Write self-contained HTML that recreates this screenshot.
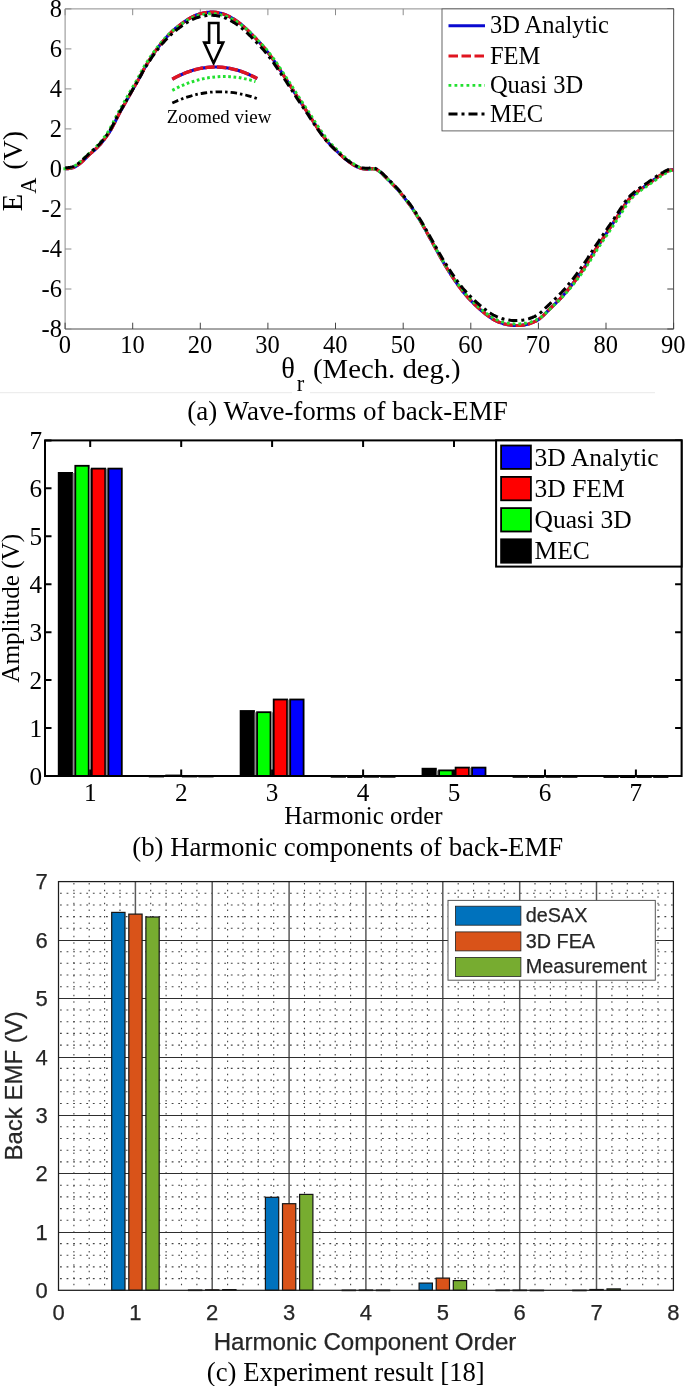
<!DOCTYPE html>
<html><head><meta charset="utf-8"><title>Back-EMF comparison</title>
<style>
html,body{margin:0;padding:0;background:#fff}
svg{display:block}
text{font-family:"Liberation Serif",serif;fill:#000}
.s24{font-size:24.5px}
.s25{font-size:25.2px}
.cap{font-size:27px}
.h,.h21{font-family:"Liberation Sans",sans-serif;fill:#262626;stroke:#262626;stroke-width:0.25px}
.h21{font-size:22px}
</style></head><body>
<svg width="685" height="1386" viewBox="0 0 685 1386">
<rect width="685" height="1386" fill="#fff"/>
<g id="chart-a">
<path d="M65.1,329.0V8.9H673.6" fill="none" stroke="#8c8c8c" stroke-width="1"/>
<path d="M65.1,329.0H673.6V8.9" fill="none" stroke="#4c4c4c" stroke-width="1"/>
<path d="M65.1,8.9v6.3 M132.7,8.9v6.3 M200.3,8.9v6.3 M267.9,8.9v6.3 M335.5,8.9v6.3 M403.2,8.9v6.3 M470.8,8.9v6.3 M538.4,8.9v6.3 M606.0,8.9v6.3 M673.6,8.9v6.3 M65.1,8.9h6.3 M65.1,48.9h6.3 M65.1,88.9h6.3 M65.1,128.9h6.3 M65.1,169.0h6.3 M65.1,209.0h6.3 M65.1,249.0h6.3 M65.1,289.0h6.3 M65.1,329.0h6.3" stroke="#8c8c8c" stroke-width="1" fill="none"/>
<path d="M65.1,329.0v-6.3 M132.7,329.0v-6.3 M200.3,329.0v-6.3 M267.9,329.0v-6.3 M335.5,329.0v-6.3 M403.2,329.0v-6.3 M470.8,329.0v-6.3 M538.4,329.0v-6.3 M606.0,329.0v-6.3 M673.6,329.0v-6.3 M673.6,8.9h-6.3 M673.6,48.9h-6.3 M673.6,88.9h-6.3 M673.6,128.9h-6.3 M673.6,169.0h-6.3 M673.6,209.0h-6.3 M673.6,249.0h-6.3 M673.6,289.0h-6.3 M673.6,329.0h-6.3" stroke="#444" stroke-width="1" fill="none"/>
<path d="M65.3,168.7 L65.8,168.7 L66.5,168.7 L67.3,168.7 L68.2,168.6 L69.1,168.5 L70.0,168.4 L70.9,168.2 L71.7,168.0 L72.6,167.8 L73.6,167.5 L74.5,167.1 L75.5,166.6 L76.5,166.0 L77.5,165.3 L78.6,164.5 L79.7,163.7 L80.8,162.8 L81.9,161.8 L83.1,160.7 L84.3,159.6 L85.5,158.4 L86.7,157.1 L88.0,155.9 L89.2,154.7 L90.4,153.6 L91.6,152.6 L92.8,151.5 L94.1,150.5 L95.3,149.4 L96.5,148.2 L97.7,147.0 L98.9,145.7 L100.2,144.4 L101.4,143.0 L102.6,141.5 L103.8,140.0 L105.0,138.4 L106.2,136.8 L107.4,135.1 L108.7,133.3 L109.9,131.4 L111.1,129.4 L112.3,127.2 L113.5,124.9 L114.8,122.5 L116.0,120.0 L117.2,117.6 L118.4,115.2 L119.6,112.9 L120.8,110.7 L122.1,108.5 L123.3,106.3 L124.5,104.2 L125.7,102.0 L126.9,99.8 L128.2,97.6 L129.4,95.4 L130.6,93.2 L131.8,91.1 L133.0,89.0 L134.2,87.0 L135.3,85.0 L136.4,83.0 L137.5,81.1 L138.6,79.3 L139.6,77.5 L140.5,75.8 L141.3,74.2 L142.1,72.7 L142.8,71.2 L143.7,69.6 L144.6,67.9 L145.7,66.1 L146.9,64.1 L148.1,62.1 L149.4,60.1 L150.7,58.1 L151.9,56.2 L153.1,54.4 L154.3,52.6 L155.6,50.9 L156.8,49.2 L158.0,47.6 L159.2,46.0 L160.4,44.4 L161.6,42.9 L162.8,41.4 L164.1,40.0 L165.3,38.6 L166.5,37.2 L167.7,35.9 L168.9,34.6 L170.2,33.4 L171.4,32.2 L172.6,31.0 L173.8,29.9 L175.0,28.8 L176.2,27.8 L177.5,26.9 L178.7,25.9 L179.9,25.0 L181.1,24.1 L182.3,23.2 L183.5,22.3 L184.8,21.4 L186.0,20.6 L187.2,19.8 L188.4,19.0 L189.6,18.3 L190.8,17.6 L192.1,17.0 L193.3,16.4 L194.5,15.8 L195.7,15.3 L196.9,14.8 L198.1,14.4 L199.3,14.0 L200.5,13.7 L201.7,13.4 L203.0,13.1 L204.4,12.8 L205.8,12.6 L207.3,12.4 L208.8,12.2 L210.3,12.1 L211.8,12.1 L213.3,12.1 L214.7,12.2 L216.2,12.4 L217.6,12.6 L219.1,12.9 L220.5,13.2 L221.9,13.6 L223.3,14.0 L224.7,14.5 L226.0,15.0 L227.4,15.6 L228.8,16.3 L230.2,17.0 L231.7,17.8 L233.1,18.7 L234.6,19.6 L236.0,20.6 L237.5,21.6 L239.0,22.7 L240.4,23.8 L241.9,25.0 L243.4,26.3 L244.8,27.6 L246.3,28.9 L247.8,30.3 L249.2,31.7 L250.7,33.2 L252.1,34.7 L253.5,36.2 L255.0,37.7 L256.5,39.2 L257.9,40.8 L259.4,42.3 L260.9,43.9 L262.3,45.6 L263.8,47.3 L265.3,49.1 L266.7,50.9 L268.2,52.8 L269.7,54.7 L271.1,56.7 L272.6,58.7 L274.1,60.8 L275.5,62.9 L276.9,65.1 L278.4,67.3 L279.8,69.6 L281.3,71.8 L282.8,74.0 L284.2,76.3 L285.7,78.6 L287.2,80.8 L288.6,83.1 L290.1,85.4 L291.6,87.7 L293.0,90.0 L294.4,92.3 L295.9,94.6 L297.3,96.9 L298.8,99.2 L300.3,101.4 L301.7,103.7 L303.2,105.9 L304.6,108.1 L306.1,110.3 L307.6,112.6 L309.1,114.9 L310.5,117.2 L312.0,119.5 L313.5,121.9 L315.0,124.2 L316.6,126.6 L318.2,129.0 L319.9,131.5 L321.6,133.9 L323.4,136.3 L325.1,138.6 L326.8,140.8 L328.5,142.8 L330.2,144.6 L331.9,146.4 L333.6,148.0 L335.3,149.7 L337.0,151.3 L338.7,152.9 L340.4,154.6 L342.1,156.2 L343.8,157.7 L345.5,159.1 L347.2,160.5 L348.9,161.8 L350.7,163.0 L352.4,164.2 L354.1,165.3 L355.8,166.2 L357.4,167.0 L358.9,167.6 L360.3,168.1 L361.6,168.5 L362.9,168.8 L364.3,169.0 L365.6,169.2 L367.0,169.2 L368.4,169.1 L369.8,169.0 L371.2,168.8 L372.6,168.7 L373.8,168.8 L374.9,169.0 L375.9,169.3 L376.9,169.7 L377.8,170.2 L378.8,170.9 L379.9,171.7 L381.1,172.7 L382.4,173.9 L383.7,175.2 L385.1,176.6 L386.6,178.1 L388.1,179.6 L389.7,181.2 L391.5,183.0 L393.3,184.9 L395.1,186.8 L396.8,188.6 L398.3,190.3 L399.6,191.8 L400.8,193.2 L401.8,194.5 L402.9,195.8 L403.9,197.2 L405.0,198.6 L406.1,200.1 L407.3,201.5 L408.4,203.0 L409.6,204.6 L410.9,206.4 L412.3,208.4 L413.8,210.7 L415.5,213.3 L417.2,216.0 L419.0,218.9 L420.8,221.8 L422.5,224.7 L424.2,227.6 L425.9,230.7 L427.6,233.8 L429.3,236.9 L431.0,240.0 L432.7,243.1 L434.4,246.2 L436.1,249.3 L437.8,252.4 L439.5,255.5 L441.2,258.5 L442.9,261.5 L444.6,264.4 L446.3,267.2 L448.0,270.0 L449.7,272.7 L451.4,275.3 L453.1,277.9 L454.8,280.4 L456.5,282.9 L458.2,285.4 L460.0,287.7 L461.7,290.0 L463.4,292.2 L465.1,294.3 L466.8,296.2 L468.5,298.1 L470.2,299.9 L471.9,301.7 L473.6,303.4 L475.3,305.1 L477.0,306.7 L478.7,308.2 L480.4,309.8 L482.1,311.2 L483.8,312.6 L485.5,314.0 L487.2,315.3 L488.9,316.5 L490.6,317.7 L492.3,318.8 L494.0,319.8 L495.7,320.7 L497.4,321.5 L499.1,322.2 L500.8,322.8 L502.5,323.4 L504.2,323.9 L505.9,324.3 L507.6,324.7 L509.3,325.0 L511.0,325.2 L512.7,325.4 L514.4,325.5 L516.1,325.5 L517.9,325.5 L519.7,325.5 L521.4,325.3 L523.1,325.1 L524.7,324.9 L526.2,324.6 L527.6,324.3 L528.9,323.9 L530.2,323.4 L531.5,322.9 L532.8,322.4 L534.0,321.9 L535.1,321.4 L536.3,320.9 L537.4,320.2 L538.6,319.4 L540.0,318.4 L541.5,317.1 L543.2,315.6 L544.9,313.9 L546.7,312.1 L548.6,310.2 L550.4,308.4 L552.2,306.6 L554.1,304.8 L556.0,303.0 L557.9,301.1 L559.8,299.1 L561.7,297.1 L563.6,295.0 L565.5,292.8 L567.4,290.6 L569.2,288.3 L571.1,285.9 L573.0,283.5 L574.9,281.0 L576.8,278.5 L578.6,275.9 L580.5,273.2 L582.4,270.5 L584.3,267.7 L586.2,264.8 L588.1,261.8 L589.9,258.7 L591.8,255.6 L593.7,252.6 L595.6,249.6 L597.5,246.7 L599.4,243.9 L601.2,241.1 L603.1,238.3 L605.0,235.4 L606.9,232.6 L608.8,229.7 L610.8,226.7 L612.7,223.7 L614.7,220.7 L616.5,217.9 L618.3,215.2 L619.9,212.6 L621.5,210.2 L622.9,207.8 L624.4,205.5 L625.8,203.4 L627.3,201.4 L628.8,199.6 L630.2,198.0 L631.7,196.5 L633.2,195.2 L634.8,193.8 L636.4,192.4 L638.2,191.0 L640.0,189.6 L641.9,188.3 L643.9,187.0 L645.8,185.6 L647.7,184.3 L649.6,182.9 L651.6,181.5 L653.5,180.1 L655.4,178.7 L657.2,177.4 L659.0,176.2 L660.7,175.1 L662.3,174.1 L663.9,173.2 L665.4,172.3 L666.7,171.6 L668.0,171.0 L669.1,170.6 L670.2,170.3 L671.2,170.1 L672.0,170.0 L672.7,169.9 L673.2,169.8" fill="none" stroke="#0a0ad0" stroke-width="3.1" stroke-linejoin="round"/>
<path d="M65.3,168.7 L65.8,168.7 L66.5,168.7 L67.3,168.7 L68.2,168.6 L69.1,168.5 L70.0,168.4 L70.9,168.2 L71.7,168.0 L72.6,167.8 L73.6,167.5 L74.5,167.1 L75.5,166.6 L76.5,166.0 L77.5,165.3 L78.6,164.5 L79.7,163.7 L80.8,162.8 L81.9,161.8 L83.1,160.7 L84.3,159.6 L85.5,158.4 L86.7,157.1 L88.0,155.9 L89.2,154.7 L90.4,153.6 L91.6,152.6 L92.8,151.5 L94.1,150.5 L95.3,149.4 L96.5,148.2 L97.7,147.0 L98.9,145.7 L100.2,144.4 L101.4,143.0 L102.6,141.5 L103.8,140.0 L105.0,138.4 L106.2,136.8 L107.4,135.1 L108.7,133.3 L109.9,131.4 L111.1,129.4 L112.3,127.2 L113.5,124.9 L114.8,122.5 L116.0,120.0 L117.2,117.6 L118.4,115.2 L119.6,112.9 L120.8,110.7 L122.1,108.5 L123.3,106.3 L124.5,104.2 L125.7,102.0 L126.9,99.8 L128.2,97.6 L129.4,95.4 L130.6,93.2 L131.8,91.1 L133.0,89.0 L134.2,87.0 L135.3,85.0 L136.4,83.0 L137.5,81.1 L138.6,79.3 L139.6,77.5 L140.5,75.8 L141.3,74.2 L142.1,72.7 L142.8,71.2 L143.7,69.6 L144.6,67.9 L145.7,66.1 L146.9,64.1 L148.1,62.1 L149.4,60.1 L150.7,58.1 L151.9,56.2 L153.1,54.4 L154.3,52.6 L155.6,50.9 L156.8,49.2 L158.0,47.6 L159.2,46.0 L160.4,44.4 L161.6,42.9 L162.8,41.4 L164.1,40.0 L165.3,38.6 L166.5,37.2 L167.7,35.9 L168.9,34.6 L170.2,33.4 L171.4,32.2 L172.6,31.0 L173.8,29.9 L175.0,28.8 L176.2,27.8 L177.5,26.9 L178.7,25.9 L179.9,25.0 L181.1,24.1 L182.3,23.2 L183.5,22.3 L184.8,21.4 L186.0,20.6 L187.2,19.8 L188.4,19.0 L189.6,18.3 L190.8,17.6 L192.1,17.0 L193.3,16.4 L194.5,15.8 L195.7,15.3 L196.9,14.8 L198.1,14.4 L199.3,14.0 L200.5,13.7 L201.7,13.4 L203.0,13.1 L204.4,12.8 L205.8,12.6 L207.3,12.4 L208.8,12.2 L210.3,12.1 L211.8,12.1 L213.3,12.1 L214.7,12.2 L216.2,12.4 L217.6,12.6 L219.1,12.9 L220.5,13.2 L221.9,13.6 L223.3,14.0 L224.7,14.5 L226.0,15.0 L227.4,15.6 L228.8,16.3 L230.2,17.0 L231.7,17.8 L233.1,18.7 L234.6,19.6 L236.0,20.6 L237.5,21.6 L239.0,22.7 L240.4,23.8 L241.9,25.0 L243.4,26.3 L244.8,27.6 L246.3,28.9 L247.8,30.3 L249.2,31.7 L250.7,33.2 L252.1,34.7 L253.5,36.2 L255.0,37.7 L256.5,39.2 L257.9,40.8 L259.4,42.3 L260.9,43.9 L262.3,45.6 L263.8,47.3 L265.3,49.1 L266.7,50.9 L268.2,52.8 L269.7,54.7 L271.1,56.7 L272.6,58.7 L274.1,60.8 L275.5,62.9 L276.9,65.1 L278.4,67.3 L279.8,69.6 L281.3,71.8 L282.8,74.0 L284.2,76.3 L285.7,78.6 L287.2,80.8 L288.6,83.1 L290.1,85.4 L291.6,87.7 L293.0,90.0 L294.4,92.3 L295.9,94.6 L297.3,96.9 L298.8,99.2 L300.3,101.4 L301.7,103.7 L303.2,105.9 L304.6,108.1 L306.1,110.3 L307.6,112.6 L309.1,114.9 L310.5,117.2 L312.0,119.5 L313.5,121.9 L315.0,124.2 L316.6,126.6 L318.2,129.0 L319.9,131.5 L321.6,133.9 L323.4,136.3 L325.1,138.6 L326.8,140.8 L328.5,142.8 L330.2,144.6 L331.9,146.4 L333.6,148.0 L335.3,149.7 L337.0,151.3 L338.7,152.9 L340.4,154.6 L342.1,156.2 L343.8,157.7 L345.5,159.1 L347.2,160.5 L348.9,161.8 L350.7,163.0 L352.4,164.2 L354.1,165.3 L355.8,166.2 L357.4,167.0 L358.9,167.6 L360.3,168.1 L361.6,168.5 L362.9,168.8 L364.3,169.0 L365.6,169.2 L367.0,169.2 L368.4,169.1 L369.8,169.0 L371.2,168.8 L372.6,168.7 L373.8,168.8 L374.9,169.0 L375.9,169.3 L376.9,169.7 L377.8,170.2 L378.8,170.9 L379.9,171.7 L381.1,172.7 L382.4,173.9 L383.7,175.2 L385.1,176.6 L386.6,178.1 L388.1,179.6 L389.7,181.2 L391.5,183.0 L393.3,184.9 L395.1,186.8 L396.8,188.6 L398.3,190.3 L399.6,191.8 L400.8,193.2 L401.8,194.5 L402.9,195.8 L403.9,197.2 L405.0,198.6 L406.1,200.1 L407.3,201.5 L408.4,203.0 L409.6,204.6 L410.9,206.4 L412.3,208.4 L413.8,210.7 L415.5,213.3 L417.2,216.0 L419.0,218.9 L420.8,221.8 L422.5,224.7 L424.2,227.6 L425.9,230.7 L427.6,233.8 L429.3,236.9 L431.0,240.0 L432.7,243.1 L434.4,246.2 L436.1,249.3 L437.8,252.4 L439.5,255.5 L441.2,258.5 L442.9,261.5 L444.6,264.4 L446.3,267.2 L448.0,270.0 L449.7,272.7 L451.4,275.3 L453.1,277.9 L454.8,280.4 L456.5,282.9 L458.2,285.4 L460.0,287.7 L461.7,290.0 L463.4,292.2 L465.1,294.3 L466.8,296.2 L468.5,298.1 L470.2,299.9 L471.9,301.7 L473.6,303.4 L475.3,305.1 L477.0,306.7 L478.7,308.2 L480.4,309.8 L482.1,311.2 L483.8,312.6 L485.5,314.0 L487.2,315.3 L488.9,316.5 L490.6,317.7 L492.3,318.8 L494.0,319.8 L495.7,320.7 L497.4,321.5 L499.1,322.2 L500.8,322.8 L502.5,323.4 L504.2,323.9 L505.9,324.3 L507.6,324.7 L509.3,325.0 L511.0,325.2 L512.7,325.4 L514.4,325.5 L516.1,325.5 L517.9,325.5 L519.7,325.5 L521.4,325.3 L523.1,325.1 L524.7,324.9 L526.2,324.6 L527.6,324.3 L528.9,323.9 L530.2,323.4 L531.5,322.9 L532.8,322.4 L534.0,321.9 L535.1,321.4 L536.3,320.9 L537.4,320.2 L538.6,319.4 L540.0,318.4 L541.5,317.1 L543.2,315.6 L544.9,313.9 L546.7,312.1 L548.6,310.2 L550.4,308.4 L552.2,306.6 L554.1,304.8 L556.0,303.0 L557.9,301.1 L559.8,299.1 L561.7,297.1 L563.6,295.0 L565.5,292.8 L567.4,290.6 L569.2,288.3 L571.1,285.9 L573.0,283.5 L574.9,281.0 L576.8,278.5 L578.6,275.9 L580.5,273.2 L582.4,270.5 L584.3,267.7 L586.2,264.8 L588.1,261.8 L589.9,258.7 L591.8,255.6 L593.7,252.6 L595.6,249.6 L597.5,246.7 L599.4,243.9 L601.2,241.1 L603.1,238.3 L605.0,235.4 L606.9,232.6 L608.8,229.7 L610.8,226.7 L612.7,223.7 L614.7,220.7 L616.5,217.9 L618.3,215.2 L619.9,212.6 L621.5,210.2 L622.9,207.8 L624.4,205.5 L625.8,203.4 L627.3,201.4 L628.8,199.6 L630.2,198.0 L631.7,196.5 L633.2,195.2 L634.8,193.8 L636.4,192.4 L638.2,191.0 L640.0,189.6 L641.9,188.3 L643.9,187.0 L645.8,185.6 L647.7,184.3 L649.6,182.9 L651.6,181.5 L653.5,180.1 L655.4,178.7 L657.2,177.4 L659.0,176.2 L660.7,175.1 L662.3,174.1 L663.9,173.2 L665.4,172.3 L666.7,171.6 L668.0,171.0 L669.1,170.6 L670.2,170.3 L671.2,170.1 L672.0,170.0 L672.7,169.9 L673.2,169.8" fill="none" stroke="#e01520" stroke-width="3.2" stroke-dasharray="9.5 2.8" stroke-linejoin="round"/>
<path d="M63.4,168.7 L63.9,168.7 L64.6,168.7 L65.4,168.7 L66.3,168.6 L67.2,168.5 L68.1,168.4 L69.0,168.2 L69.8,168.0 L70.7,167.8 L71.7,167.5 L72.6,167.1 L73.6,166.6 L74.6,166.0 L75.6,165.3 L76.7,164.6 L77.8,163.7 L78.9,162.8 L80.0,161.9 L81.2,160.8 L82.4,159.7 L83.6,158.5 L84.8,157.2 L86.1,156.0 L87.3,154.8 L88.5,153.8 L89.7,152.7 L91.0,151.7 L92.2,150.7 L93.4,149.6 L94.6,148.4 L95.8,147.2 L97.0,145.9 L98.3,144.6 L99.5,143.2 L100.7,141.8 L101.9,140.3 L103.1,138.7 L104.3,137.1 L105.6,135.4 L106.8,133.6 L108.0,131.8 L109.2,129.8 L110.4,127.6 L111.6,125.3 L112.9,122.9 L114.1,120.5 L115.3,118.1 L116.5,115.7 L117.7,113.5 L118.9,111.3 L120.2,109.1 L121.4,107.0 L122.6,104.8 L123.8,102.7 L125.0,100.5 L126.3,98.3 L127.5,96.1 L128.7,94.0 L129.9,91.9 L131.1,89.8 L132.3,87.8 L133.4,85.8 L134.5,83.9 L135.7,82.0 L136.7,80.2 L137.7,78.4 L138.6,76.7 L139.4,75.2 L140.2,73.7 L140.9,72.2 L141.8,70.6 L142.7,68.9 L143.8,67.1 L145.0,65.1 L146.2,63.2 L147.5,61.2 L148.8,59.2 L150.0,57.3 L151.2,55.5 L152.5,53.8 L153.7,52.1 L154.9,50.4 L156.1,48.8 L157.3,47.2 L158.6,45.7 L159.8,44.2 L161.0,42.7 L162.2,41.3 L163.4,39.9 L164.7,38.5 L165.9,37.2 L167.1,35.9 L168.3,34.7 L169.6,33.5 L170.8,32.4 L172.0,31.3 L173.2,30.2 L174.5,29.2 L175.7,28.3 L176.9,27.4 L178.2,26.4 L179.4,25.5 L180.6,24.6 L181.9,23.8 L183.1,22.9 L184.4,22.1 L185.6,21.3 L186.9,20.5 L188.1,19.8 L189.4,19.1 L190.6,18.5 L191.9,17.9 L193.1,17.3 L194.4,16.8 L195.6,16.4 L196.9,16.0 L198.1,15.6 L199.4,15.2 L200.7,14.9 L202.0,14.7 L203.5,14.4 L205.0,14.2 L206.6,14.0 L208.2,13.8 L209.8,13.7 L211.4,13.7 L213.0,13.7 L214.5,13.8 L216.1,14.0 L217.7,14.2 L219.2,14.4 L220.8,14.8 L222.3,15.1 L223.7,15.6 L225.2,16.0 L226.7,16.6 L228.1,17.2 L229.6,17.8 L231.1,18.6 L232.7,19.3 L234.2,20.2 L235.7,21.1 L237.3,22.1 L238.8,23.1 L240.3,24.1 L241.8,25.3 L243.3,26.5 L244.9,27.7 L246.4,29.0 L247.9,30.3 L249.4,31.7 L250.8,33.1 L252.3,34.5 L253.8,36.0 L255.3,37.5 L256.7,39.0 L258.2,40.5 L259.7,42.1 L261.2,43.6 L262.7,45.2 L264.1,46.8 L265.6,48.5 L267.1,50.3 L268.6,52.1 L270.0,53.9 L271.5,55.8 L273.0,57.8 L274.5,59.8 L275.9,61.9 L277.4,64.0 L278.8,66.1 L280.3,68.3 L281.7,70.6 L283.2,72.8 L284.6,75.0 L286.1,77.2 L287.6,79.5 L289.1,81.7 L290.5,84.0 L292.0,86.2 L293.4,88.5 L294.9,90.8 L296.3,93.1 L297.8,95.4 L299.2,97.6 L300.7,99.9 L302.2,102.1 L303.6,104.3 L305.1,106.5 L306.5,108.7 L308.0,110.9 L309.5,113.2 L311.0,115.4 L312.4,117.7 L313.9,120.0 L315.4,122.4 L316.9,124.7 L318.5,127.0 L320.1,129.4 L321.8,131.8 L323.5,134.3 L325.3,136.7 L327.0,138.9 L328.7,141.1 L330.4,143.0 L332.1,144.9 L333.8,146.6 L335.5,148.2 L337.2,149.9 L338.9,151.5 L340.6,153.1 L342.3,154.7 L344.0,156.3 L345.7,157.8 L347.4,159.2 L349.1,160.6 L350.8,161.9 L352.6,163.1 L354.3,164.2 L356.0,165.3 L357.7,166.2 L359.3,167.0 L360.8,167.7 L362.2,168.2 L363.5,168.5 L364.8,168.8 L366.2,169.0 L367.5,169.2 L368.9,169.2 L370.3,169.1 L369.6,169.0 L371.0,168.8 L372.4,168.7 L373.6,168.8 L374.7,169.0 L375.7,169.3 L376.7,169.7 L377.6,170.2 L378.6,170.9 L379.7,171.7 L380.9,172.7 L382.2,173.8 L383.5,175.1 L384.9,176.5 L386.4,178.0 L387.9,179.5 L389.5,181.1 L391.3,182.9 L393.1,184.8 L394.9,186.6 L396.6,188.4 L398.1,190.1 L399.4,191.6 L400.6,192.9 L401.6,194.2 L402.7,195.5 L403.7,196.9 L404.8,198.3 L405.9,199.8 L407.1,201.2 L408.2,202.7 L409.4,204.2 L410.7,206.0 L412.1,208.0 L413.6,210.3 L415.3,212.8 L417.0,215.5 L418.8,218.4 L420.6,221.3 L422.3,224.1 L424.0,227.1 L425.7,230.1 L427.4,233.1 L429.1,236.2 L430.8,239.3 L432.5,242.4 L434.2,245.4 L435.9,248.5 L437.6,251.6 L439.3,254.6 L441.0,257.7 L442.7,260.6 L444.4,263.4 L446.1,266.2 L447.8,268.9 L449.5,271.6 L451.2,274.2 L452.9,276.8 L454.6,279.3 L456.3,281.8 L458.1,284.2 L459.8,286.6 L461.5,288.8 L463.2,291.0 L464.9,293.0 L466.6,295.0 L468.3,296.8 L470.0,298.6 L471.7,300.4 L473.4,302.1 L475.1,303.7 L476.8,305.3 L478.5,306.9 L480.2,308.3 L481.9,309.8 L483.6,311.2 L485.3,312.5 L487.0,313.8 L488.7,315.0 L490.4,316.2 L492.1,317.3 L493.8,318.3 L495.5,319.2 L497.2,320.0 L498.9,320.7 L500.6,321.3 L502.3,321.9 L504.0,322.3 L505.7,322.8 L507.4,323.1 L509.1,323.4 L510.8,323.7 L512.5,323.8 L514.2,323.9 L515.9,324.0 L517.7,324.0 L519.6,323.9 L521.5,323.8 L523.3,323.6 L525.0,323.3 L526.6,323.1 L528.1,322.7 L529.6,322.3 L531.0,321.9 L532.4,321.4 L533.7,320.9 L535.0,320.4 L536.2,319.9 L537.4,319.3 L538.6,318.7 L539.9,317.9 L541.3,316.9 L543.0,315.6 L544.7,314.1 L546.5,312.4 L548.4,310.6 L550.3,308.8 L552.1,307.0 L554.0,305.2 L555.9,303.5 L557.9,301.6 L559.8,299.8 L561.7,297.8 L563.6,295.8 L565.5,293.7 L567.5,291.6 L569.3,289.4 L571.2,287.1 L573.1,284.7 L575.0,282.4 L576.9,279.9 L578.8,277.4 L580.7,274.8 L582.6,272.2 L584.5,269.5 L586.4,266.7 L588.3,263.8 L590.1,260.9 L592.0,257.8 L593.9,254.8 L595.8,251.7 L597.7,248.8 L599.6,245.9 L601.5,243.1 L603.3,240.3 L605.2,237.6 L607.1,234.8 L609.0,232.0 L610.9,229.1 L612.9,226.1 L614.8,223.2 L616.8,220.2 L618.6,217.4 L620.4,214.7 L622.0,212.2 L623.6,209.7 L625.0,207.4 L626.5,205.1 L627.9,203.0 L629.4,201.1 L630.9,199.3 L632.3,197.7 L633.8,196.3 L635.3,194.9 L636.9,193.5 L638.5,192.2 L640.3,190.8 L642.1,189.4 L644.0,188.1 L646.0,186.8 L647.9,185.5 L649.8,184.1 L651.7,182.8 L653.7,181.4 L655.6,180.0 L657.5,178.6 L659.3,177.3 L661.1,176.1 L662.8,175.1 L664.4,174.1 L666.0,173.1 L667.5,172.3 L668.8,171.6 L670.1,171.0 L671.2,170.5 L672.3,170.2 L673.3,170.1" fill="none" stroke="#22e030" stroke-width="2.9" stroke-dasharray="2.8 3" stroke-linejoin="round"/>
<path d="M65.2,167.8 L65.9,167.8 L66.7,167.8 L67.6,167.7 L68.5,167.6 L69.4,167.5 L70.3,167.3 L71.1,167.1 L72.0,166.9 L73.0,166.6 L73.9,166.2 L74.9,165.8 L75.9,165.2 L76.9,164.5 L78.0,163.7 L79.1,162.9 L80.2,162.0 L81.3,161.1 L82.5,160.1 L83.7,158.9 L84.9,157.7 L86.1,156.5 L87.4,155.3 L88.6,154.2 L89.8,153.1 L91.0,152.1 L92.2,151.1 L93.5,150.0 L94.7,149.0 L95.9,147.8 L97.1,146.6 L98.3,145.4 L99.6,144.1 L100.8,142.7 L102.0,141.3 L103.2,139.8 L104.4,138.3 L105.6,136.7 L106.8,135.1 L108.1,133.3 L109.3,131.5 L110.5,129.5 L111.7,127.4 L112.9,125.1 L114.2,122.8 L115.4,120.4 L116.6,118.0 L117.8,115.7 L119.0,113.5 L120.2,111.3 L121.5,109.2 L122.7,107.1 L123.9,105.0 L125.1,102.8 L126.3,100.7 L127.6,98.5 L128.8,96.4 L130.0,94.3 L131.2,92.2 L132.4,90.2 L133.6,88.2 L134.7,86.3 L135.8,84.4 L136.9,82.5 L138.0,80.7 L139.0,79.0 L139.9,77.3 L140.7,75.8 L141.5,74.3 L142.2,72.8 L143.1,71.3 L144.0,69.6 L145.1,67.8 L146.3,65.9 L147.5,64.0 L148.8,62.0 L150.1,60.1 L151.3,58.2 L152.5,56.5 L153.7,54.8 L155.0,53.1 L156.2,51.4 L157.4,49.9 L158.6,48.3 L159.8,46.8 L161.0,45.3 L162.2,43.8 L163.5,42.4 L164.7,41.0 L165.9,39.7 L167.1,38.4 L168.3,37.2 L169.6,36.0 L170.8,34.8 L172.0,33.7 L173.2,32.6 L174.4,31.6 L175.6,30.6 L176.9,29.7 L178.1,28.7 L179.3,27.8 L180.5,27.0 L181.7,26.1 L182.9,25.2 L184.2,24.4 L185.4,23.5 L186.6,22.7 L187.8,22.0 L189.0,21.3 L190.2,20.6 L191.5,20.0 L192.7,19.4 L193.9,18.9 L195.1,18.4 L196.3,17.9 L197.5,17.5 L198.7,17.2 L199.9,16.8 L201.1,16.5 L202.4,16.2 L203.8,16.0 L205.2,15.8 L206.7,15.6 L208.2,15.4 L209.7,15.3 L211.2,15.3 L212.7,15.3 L214.1,15.4 L215.6,15.6 L217.0,15.8 L218.5,16.0 L219.9,16.3 L221.3,16.7 L222.7,17.1 L224.1,17.6 L225.4,18.1 L226.8,18.7 L228.2,19.4 L229.6,20.1 L231.1,20.9 L232.5,21.7 L234.0,22.6 L235.4,23.5 L236.9,24.5 L238.4,25.6 L239.8,26.7 L241.3,27.9 L242.8,29.1 L244.2,30.3 L245.7,31.6 L247.2,33.0 L248.6,34.4 L250.1,35.8 L251.5,37.2 L252.9,38.7 L254.4,40.2 L255.9,41.7 L257.3,43.2 L258.8,44.7 L260.3,46.3 L261.7,47.9 L263.2,49.6 L264.7,51.3 L266.1,53.1 L267.6,54.9 L269.1,56.8 L270.5,58.7 L272.0,60.7 L273.5,62.7 L274.9,64.8 L276.3,66.9 L277.8,69.1 L279.2,71.2 L280.7,73.4 L282.2,75.6 L283.6,77.8 L285.1,80.0 L286.6,82.2 L288.0,84.4 L289.5,86.7 L291.0,88.9 L292.4,91.1 L293.8,93.4 L295.3,95.7 L296.7,97.9 L298.2,100.1 L299.7,102.3 L301.1,104.5 L302.6,106.6 L304.0,108.8 L305.5,111.0 L307.0,113.2 L308.5,115.4 L309.9,117.7 L311.4,119.9 L312.9,122.2 L314.4,124.5 L316.0,126.8 L317.6,129.1 L319.3,131.5 L321.0,133.9 L322.8,136.3 L324.5,138.5 L326.2,140.6 L327.9,142.6 L329.6,144.4 L331.3,146.0 L333.0,147.7 L334.7,149.3 L336.4,150.9 L338.1,152.5 L339.8,154.0 L341.5,155.6 L343.2,157.1 L344.9,158.5 L346.6,159.8 L348.3,161.1 L350.1,162.3 L351.8,163.4 L353.5,164.4 L355.2,165.4 L356.8,166.1 L358.3,166.8 L359.7,167.3 L361.0,167.6 L362.3,167.9 L363.7,168.1 L365.0,168.3 L366.4,168.3 L367.8,168.2 L369.2,168.1 L370.6,167.9 L372.0,167.8 L373.2,167.9 L374.3,168.1 L375.3,168.4 L376.2,168.8 L377.2,169.3 L378.2,169.9 L379.3,170.7 L380.5,171.7 L381.8,172.8 L383.1,174.1 L384.5,175.5 L386.0,176.9 L387.5,178.4 L389.1,180.0 L390.9,181.8 L392.7,183.6 L394.5,185.4 L396.2,187.2 L397.7,188.8 L399.0,190.3 L400.2,191.7 L401.2,192.9 L402.3,194.2 L403.3,195.5 L404.4,196.9 L405.5,198.4 L406.7,199.8 L407.8,201.2 L409.0,202.8 L410.3,204.5 L411.7,206.5 L413.2,208.7 L414.9,211.2 L416.6,213.9 L418.4,216.7 L420.2,219.5 L421.9,222.3 L423.6,225.2 L425.3,228.2 L427.0,231.2 L428.7,234.2 L430.4,237.3 L432.1,240.3 L433.8,243.3 L435.5,246.3 L437.2,249.4 L438.9,252.4 L440.6,255.3 L442.3,258.2 L444.0,261.0 L445.7,263.7 L447.4,266.4 L449.1,269.1 L450.8,271.6 L452.5,274.2 L454.2,276.6 L455.9,279.1 L457.6,281.4 L459.4,283.7 L461.1,286.0 L462.8,288.1 L464.5,290.1 L466.2,292.0 L467.9,293.9 L469.6,295.6 L471.3,297.3 L473.0,299.0 L474.7,300.6 L476.4,302.2 L478.1,303.7 L479.8,305.2 L481.5,306.6 L483.2,308.0 L484.9,309.3 L486.6,310.6 L488.3,311.8 L490.0,312.9 L491.7,314.0 L493.4,315.0 L495.1,315.8 L496.8,316.6 L498.5,317.3 L500.2,317.9 L501.9,318.5 L503.6,319.0 L505.3,319.4 L507.0,319.7 L508.7,320.0 L510.4,320.3 L512.1,320.4 L513.8,320.5 L515.5,320.6 L517.3,320.6 L519.1,320.5 L520.8,320.4 L522.5,320.2 L524.1,319.9 L525.6,319.7 L527.0,319.3 L528.3,318.9 L529.6,318.5 L530.9,318.0 L532.2,317.5 L533.4,317.0 L534.5,316.5 L535.7,316.0 L536.8,315.4 L538.0,314.6 L539.4,313.6 L540.9,312.3 L542.6,310.8 L544.3,309.2 L546.1,307.4 L548.0,305.6 L549.8,303.9 L551.6,302.1 L553.5,300.4 L555.4,298.6 L557.3,296.7 L559.2,294.8 L561.1,292.9 L563.0,290.8 L564.9,288.7 L566.8,286.5 L568.6,284.3 L570.5,282.0 L572.4,279.6 L574.3,277.2 L576.2,274.7 L578.0,272.2 L579.9,269.6 L581.8,266.9 L583.7,264.2 L585.6,261.4 L587.5,258.5 L589.3,255.5 L591.2,252.5 L593.1,249.5 L595.0,246.6 L596.9,243.8 L598.8,241.0 L600.6,238.3 L602.5,235.5 L604.4,232.8 L606.3,230.0 L608.2,227.2 L610.2,224.3 L612.1,221.4 L614.1,218.5 L615.9,215.7 L617.7,213.1 L619.3,210.6 L620.9,208.2 L622.3,205.9 L623.8,203.7 L625.2,201.6 L626.7,199.7 L628.2,197.9 L629.6,196.4 L631.1,194.9 L632.6,193.6 L634.2,192.2 L635.8,190.9 L637.6,189.5 L639.4,188.2 L641.3,186.9 L643.3,185.6 L645.2,184.3 L647.1,183.0 L649.0,181.6 L651.0,180.3 L652.9,178.9 L654.8,177.5 L656.6,176.3 L658.4,175.1 L660.1,174.1 L661.7,173.1 L663.3,172.2 L664.8,171.3 L666.1,170.6 L667.4,170.0 L668.5,169.6 L669.6,169.3 L670.6,169.1 L671.4,169.0 L672.1,169.0 L672.6,168.9" fill="none" stroke="#000" stroke-width="3" stroke-dasharray="9 4 3 4" stroke-linejoin="round"/>
<text x="62" y="16.5" text-anchor="end" class="s24">8</text>
<text x="62" y="56.5" text-anchor="end" class="s24">6</text>
<text x="62" y="96.5" text-anchor="end" class="s24">4</text>
<text x="62" y="136.5" text-anchor="end" class="s24">2</text>
<text x="62" y="176.6" text-anchor="end" class="s24">0</text>
<text x="62" y="216.6" text-anchor="end" class="s24">-2</text>
<text x="62" y="256.6" text-anchor="end" class="s24">-4</text>
<text x="62" y="296.6" text-anchor="end" class="s24">-6</text>
<text x="62" y="336.6" text-anchor="end" class="s24">-8</text>
<text x="64.8" y="352.7" text-anchor="middle" class="s24">0</text>
<text x="132.4" y="352.7" text-anchor="middle" class="s24">10</text>
<text x="200.0" y="352.7" text-anchor="middle" class="s24">20</text>
<text x="267.6" y="352.7" text-anchor="middle" class="s24">30</text>
<text x="335.2" y="352.7" text-anchor="middle" class="s24">40</text>
<text x="402.9" y="352.7" text-anchor="middle" class="s24">50</text>
<text x="470.5" y="352.7" text-anchor="middle" class="s24">60</text>
<text x="538.1" y="352.7" text-anchor="middle" class="s24">70</text>
<text x="605.7" y="352.7" text-anchor="middle" class="s24">80</text>
<text x="673.3" y="352.7" text-anchor="middle" class="s24">90</text>
<rect x="442" y="8.9" width="231.6" height="122" fill="#fff" stroke="#555" stroke-width="0.9"/>
<path d="M448.5,25.8H485" stroke="#0a0ad0" stroke-width="3"/>
<path d="M448.5,56H485" stroke="#e01520" stroke-width="3" stroke-dasharray="9.5 3.5"/>
<path d="M448.5,85.4H485" stroke="#22e030" stroke-width="2.9" stroke-dasharray="2.8 3.2"/>
<path d="M448.5,114H485" stroke="#000" stroke-width="3" stroke-dasharray="9 4 3 4"/>
<text x="489.9" y="33.4" class="s24">3D Analytic</text>
<text x="489.9" y="63.6" class="s24">FEM</text>
<text x="489.9" y="93.0" class="s24">Quasi 3D</text>
<text x="489.9" y="121.6" class="s24">MEC</text>
<path d="M209.1,23H218.4V42.6H223.2L213.6,63.2L204.2,42.6H209.1Z" fill="#fff" stroke="#000" stroke-width="2.6" stroke-linejoin="miter"/>
<path d="M172.3,79.2 L175.2,77.6 L178.2,76.1 L181.1,74.7 L184.0,73.5 L186.9,72.3 L189.9,71.3 L192.8,70.3 L195.7,69.5 L198.6,68.8 L201.6,68.2 L204.5,67.8 L207.4,67.4 L210.4,67.2 L213.3,67.0 L216.2,67.0 L219.1,67.1 L222.1,67.3 L225.0,67.6 L227.9,68.0 L230.9,68.6 L233.8,69.3 L236.7,70.0 L239.6,70.9 L242.6,71.9 L245.5,73.0 L248.4,74.2 L251.3,75.6 L254.3,77.0 L257.2,78.6" fill="none" stroke="#0a0ad0" stroke-width="3.2"/>
<path d="M172.3,79.2 L175.2,77.6 L178.2,76.1 L181.1,74.7 L184.0,73.5 L186.9,72.3 L189.9,71.3 L192.8,70.3 L195.7,69.5 L198.6,68.8 L201.6,68.2 L204.5,67.8 L207.4,67.4 L210.4,67.2 L213.3,67.0 L216.2,67.0 L219.1,67.1 L222.1,67.3 L225.0,67.6 L227.9,68.0 L230.9,68.6 L233.8,69.3 L236.7,70.0 L239.6,70.9 L242.6,71.9 L245.5,73.0 L248.4,74.2 L251.3,75.6 L254.3,77.0 L257.2,78.6" fill="none" stroke="#e01520" stroke-width="3.4" stroke-dasharray="9.5 2.2"/>
<path d="M172.3,90.3 L175.2,88.8 L178.0,87.4 L180.9,86.1 L183.8,84.9 L186.6,83.7 L189.5,82.6 L192.4,81.7 L195.3,80.8 L198.1,80.0 L201.0,79.2 L203.9,78.6 L206.7,78.0 L209.6,77.6 L212.5,77.2 L215.3,76.9 L218.2,76.7 L221.1,76.5 L223.9,76.5 L226.8,76.5 L229.7,76.7 L232.5,76.9 L235.4,77.2 L238.3,77.5 L241.2,78.0 L244.0,78.6 L246.9,79.2 L249.8,79.9 L252.6,80.7 L255.5,81.6" fill="none" stroke="#22e030" stroke-width="3" stroke-dasharray="2.7 2.6"/>
<path d="M172.3,103.0 L175.2,101.7 L178.2,100.4 L181.1,99.2 L184.0,98.2 L186.9,97.2 L189.9,96.3 L192.8,95.4 L195.7,94.7 L198.6,94.0 L201.6,93.5 L204.5,93.0 L207.4,92.6 L210.4,92.2 L213.3,92.0 L216.2,91.8 L219.1,91.8 L222.1,91.8 L225.0,91.9 L227.9,92.1 L230.9,92.4 L233.8,92.7 L236.7,93.2 L239.6,93.7 L242.6,94.3 L245.5,95.0 L248.4,95.8 L251.3,96.6 L254.3,97.6 L257.2,98.6" fill="none" stroke="#000" stroke-width="2.8" stroke-dasharray="6.5 3 2.5 3"/>
<text x="166.8" y="122.9" font-size="18.6" textLength="104.5" lengthAdjust="spacingAndGlyphs">Zoomed view</text>
<g transform="translate(22,211.3) rotate(-90)"><text x="0" y="0" font-size="28.5">E</text><text x="17.6" y="14.3" font-size="22.5">A</text><text x="41.5" y="0" font-size="28.3" textLength="39" lengthAdjust="spacingAndGlyphs">(V)</text></g>
<text x="281.3" y="377.5" font-size="28.5">θ</text><text x="296.8" y="391.0" font-size="22.5">r</text><text x="313" y="377.5" font-size="28" textLength="147.7" lengthAdjust="spacingAndGlyphs">(Mech. deg.)</text>
<path d="M0,392.6H292M310,392.6H655" stroke="#ededed" stroke-width="1.2"/>
<text x="347.6" y="419.7" text-anchor="middle" class="cap">(a) Wave-forms of back-EMF</text>
</g>
<g id="chart-b">
<rect x="58.7" y="472.9" width="13.4" height="303.1" fill="#000" stroke="#000" stroke-width="1.8"/>
<rect x="72.7" y="473.0" width="2.0" height="303.0" fill="#8c8c8c"/>
<rect x="75.3" y="465.8" width="13.4" height="310.2" fill="#00ff00" stroke="#000" stroke-width="1.8"/>
<rect x="89.3" y="468.7" width="2.0" height="307.3" fill="#8c8c8c"/>
<rect x="91.8" y="468.6" width="13.4" height="307.4" fill="#ff0000" stroke="#000" stroke-width="1.8"/>
<rect x="105.8" y="468.7" width="2.0" height="307.3" fill="#8c8c8c"/>
<rect x="108.4" y="468.6" width="13.4" height="307.4" fill="#0000ff" stroke="#000" stroke-width="1.8"/>
<rect x="149.7" y="775.9" width="13.4" height="0.6" fill="#000" stroke="#000" stroke-width="1.8"/>
<rect x="166.2" y="775.5" width="13.4" height="0.6" fill="#00ff00" stroke="#000" stroke-width="1.8"/>
<rect x="182.8" y="775.9" width="13.4" height="0.6" fill="#ff0000" stroke="#000" stroke-width="1.8"/>
<rect x="199.3" y="775.9" width="13.4" height="0.6" fill="#0000ff" stroke="#000" stroke-width="1.8"/>
<rect x="240.6" y="711.0" width="13.4" height="65.0" fill="#000" stroke="#000" stroke-width="1.8"/>
<rect x="254.6" y="712.3" width="2.0" height="63.7" fill="#8c8c8c"/>
<rect x="257.1" y="712.2" width="13.4" height="63.8" fill="#00ff00" stroke="#000" stroke-width="1.8"/>
<rect x="271.1" y="712.3" width="2.0" height="63.7" fill="#8c8c8c"/>
<rect x="273.7" y="699.5" width="13.4" height="76.5" fill="#ff0000" stroke="#000" stroke-width="1.8"/>
<rect x="287.7" y="699.6" width="2.0" height="76.4" fill="#8c8c8c"/>
<rect x="290.2" y="699.5" width="13.4" height="76.5" fill="#0000ff" stroke="#000" stroke-width="1.8"/>
<rect x="331.6" y="776.2" width="13.4" height="0.6" fill="#000" stroke="#000" stroke-width="1.8"/>
<rect x="348.1" y="776.4" width="13.4" height="0.6" fill="#00ff00" stroke="#000" stroke-width="1.8"/>
<rect x="364.7" y="776.2" width="13.4" height="0.6" fill="#ff0000" stroke="#000" stroke-width="1.8"/>
<rect x="381.2" y="776.2" width="13.4" height="0.6" fill="#0000ff" stroke="#000" stroke-width="1.8"/>
<rect x="422.5" y="768.7" width="13.4" height="7.3" fill="#000" stroke="#000" stroke-width="1.8"/>
<rect x="436.5" y="770.5" width="2.0" height="5.5" fill="#8c8c8c"/>
<rect x="439.1" y="770.4" width="13.4" height="5.6" fill="#00ff00" stroke="#000" stroke-width="1.8"/>
<rect x="453.1" y="770.5" width="2.0" height="5.5" fill="#8c8c8c"/>
<rect x="455.6" y="767.6" width="13.4" height="8.4" fill="#ff0000" stroke="#000" stroke-width="1.8"/>
<rect x="469.6" y="767.7" width="2.0" height="8.3" fill="#8c8c8c"/>
<rect x="472.1" y="767.6" width="13.4" height="8.4" fill="#0000ff" stroke="#000" stroke-width="1.8"/>
<rect x="513.5" y="776.3" width="13.4" height="0.6" fill="#000" stroke="#000" stroke-width="1.8"/>
<rect x="530.0" y="776.4" width="13.4" height="0.6" fill="#00ff00" stroke="#000" stroke-width="1.8"/>
<rect x="546.6" y="776.3" width="13.4" height="0.6" fill="#ff0000" stroke="#000" stroke-width="1.8"/>
<rect x="563.1" y="776.3" width="13.4" height="0.6" fill="#0000ff" stroke="#000" stroke-width="1.8"/>
<rect x="604.4" y="776.4" width="13.4" height="0.6" fill="#000" stroke="#000" stroke-width="1.8"/>
<rect x="621.0" y="776.5" width="13.4" height="0.6" fill="#00ff00" stroke="#000" stroke-width="1.8"/>
<rect x="637.5" y="776.4" width="13.4" height="0.6" fill="#ff0000" stroke="#000" stroke-width="1.8"/>
<rect x="654.1" y="776.4" width="13.4" height="0.6" fill="#0000ff" stroke="#000" stroke-width="1.8"/>
<rect x="45.0" y="440.4" width="636.6" height="335.6" fill="none" stroke="#000" stroke-width="2"/>
<path d="M90.2,776.0v-6.5 M90.2,440.4v6.5 M181.2,776.0v-6.5 M181.2,440.4v6.5 M272.1,776.0v-6.5 M272.1,440.4v6.5 M363.1,776.0v-6.5 M363.1,440.4v6.5 M454.0,776.0v-6.5 M454.0,440.4v6.5 M545.0,776.0v-6.5 M545.0,440.4v6.5 M635.9,776.0v-6.5 M635.9,440.4v6.5 M45.0,776.0h6.5 M681.6,776.0h-6.5 M45.0,728.1h6.5 M681.6,728.1h-6.5 M45.0,680.1h6.5 M681.6,680.1h-6.5 M45.0,632.2h6.5 M681.6,632.2h-6.5 M45.0,584.2h6.5 M681.6,584.2h-6.5 M45.0,536.3h6.5 M681.6,536.3h-6.5 M45.0,488.3h6.5 M681.6,488.3h-6.5 M45.0,440.4h6.5 M681.6,440.4h-6.5" stroke="#000" stroke-width="2" fill="none"/>
<text x="42" y="784.5" text-anchor="end" class="s25">0</text>
<text x="42" y="736.6" text-anchor="end" class="s25">1</text>
<text x="42" y="688.6" text-anchor="end" class="s25">2</text>
<text x="42" y="640.7" text-anchor="end" class="s25">3</text>
<text x="42" y="592.7" text-anchor="end" class="s25">4</text>
<text x="42" y="544.8" text-anchor="end" class="s25">5</text>
<text x="42" y="496.8" text-anchor="end" class="s25">6</text>
<text x="42" y="448.9" text-anchor="end" class="s25">7</text>
<text x="90.2" y="800.6" text-anchor="middle" class="s25">1</text>
<text x="181.2" y="800.6" text-anchor="middle" class="s25">2</text>
<text x="272.1" y="800.6" text-anchor="middle" class="s25">3</text>
<text x="363.1" y="800.6" text-anchor="middle" class="s25">4</text>
<text x="454.0" y="800.6" text-anchor="middle" class="s25">5</text>
<text x="545.0" y="800.6" text-anchor="middle" class="s25">6</text>
<text x="635.9" y="800.6" text-anchor="middle" class="s25">7</text>
<rect x="496.1" y="440.4" width="185.5" height="126.2" fill="#fff" stroke="#000" stroke-width="2"/>
<rect x="501.1" y="445.5" width="29.8" height="23.4" fill="#0000ff" stroke="#000" stroke-width="1.8"/>
<text x="534.6" y="465.6" font-size="25.5">3D Analytic</text>
<rect x="501.1" y="476.9" width="29.8" height="23.4" fill="#ff0000" stroke="#000" stroke-width="1.8"/>
<text x="534.6" y="497.0" font-size="25.5">3D FEM</text>
<rect x="501.1" y="508.1" width="29.8" height="23.4" fill="#00ff00" stroke="#000" stroke-width="1.8"/>
<text x="534.6" y="528.0" font-size="25.5">Quasi 3D</text>
<rect x="501.1" y="539.3" width="29.8" height="23.4" fill="#000" stroke="#000" stroke-width="1.8"/>
<text x="534.6" y="559.3" font-size="25.5">MEC</text>
<text transform="translate(18.6,608.3) rotate(-90)" text-anchor="middle" font-size="25.2">Amplitude (V)</text>
<text x="363.4" y="823.7" text-anchor="middle" font-size="24.9">Harmonic order</text>
<text x="347.7" y="856" text-anchor="middle" class="cap" style="font-size:26.75px">(b) Harmonic components of back-EMF</text>
</g>
<g id="chart-c">
<path d="M73.9,883.1V1290.3 M89.2,883.1V1290.3 M104.6,883.1V1290.3 M120.0,883.1V1290.3 M150.7,883.1V1290.3 M166.1,883.1V1290.3 M181.5,883.1V1290.3 M196.9,883.1V1290.3 M227.6,883.1V1290.3 M243.0,883.1V1290.3 M258.3,883.1V1290.3 M273.7,883.1V1290.3 M304.5,883.1V1290.3 M319.8,883.1V1290.3 M335.2,883.1V1290.3 M350.6,883.1V1290.3 M381.3,883.1V1290.3 M396.7,883.1V1290.3 M412.1,883.1V1290.3 M427.4,883.1V1290.3 M458.2,883.1V1290.3 M473.6,883.1V1290.3 M488.9,883.1V1290.3 M504.3,883.1V1290.3 M535.0,883.1V1290.3 M550.4,883.1V1290.3 M565.8,883.1V1290.3 M581.2,883.1V1290.3 M611.9,883.1V1290.3 M627.3,883.1V1290.3 M642.7,883.1V1290.3 M658.0,883.1V1290.3" stroke="#444" stroke-width="1.1" stroke-dasharray="1.5 5.07" fill="none"/>
<path d="M60.0,1278.6H673.4 M60.0,1266.9H673.4 M60.0,1255.3H673.4 M60.0,1243.6H673.4 M60.0,1220.2H673.4 M60.0,1208.6H673.4 M60.0,1196.9H673.4 M60.0,1185.2H673.4 M60.0,1161.9H673.4 M60.0,1150.2H673.4 M60.0,1138.5H673.4 M60.0,1126.8H673.4 M60.0,1103.5H673.4 M60.0,1091.8H673.4 M60.0,1080.1H673.4 M60.0,1068.4H673.4 M60.0,1045.1H673.4 M60.0,1033.4H673.4 M60.0,1021.7H673.4 M60.0,1010.0H673.4 M60.0,986.7H673.4 M60.0,975.0H673.4 M60.0,963.3H673.4 M60.0,951.7H673.4 M60.0,928.3H673.4 M60.0,916.6H673.4 M60.0,905.0H673.4 M60.0,893.3H673.4" stroke="#444" stroke-width="1.1" stroke-dasharray="1.8 4.77" fill="none"/>
<path d="M135.4,881.6V1290.3 M212.2,881.6V1290.3 M289.1,881.6V1290.3 M365.9,881.6V1290.3 M442.8,881.6V1290.3 M519.7,881.6V1290.3 M596.5,881.6V1290.3" stroke="#5a5a5a" stroke-width="1.5" fill="none"/>
<path d="M58.5,1232.5H673.4 M58.5,1173.5H673.4 M58.5,1115.5H673.4 M58.5,1057.5H673.4 M58.5,998.5H673.4 M58.5,940.5H673.4" stroke="#2e2e2e" stroke-width="1.05" fill="none"/>
<rect x="111.7" y="912.4" width="13.3" height="377.9" fill="#0072bd" stroke="#161616" stroke-width="1.2"/>
<rect x="128.8" y="914.1" width="13.3" height="376.2" fill="#d95319" stroke="#161616" stroke-width="1.2"/>
<rect x="145.9" y="917.0" width="13.3" height="373.3" fill="#77ac30" stroke="#161616" stroke-width="1.2"/>
<rect x="188.5" y="1290.0" width="13.3" height="0.5" fill="#0072bd" stroke="#161616" stroke-width="1.2"/>
<rect x="205.6" y="1289.8" width="13.3" height="0.5" fill="#d95319" stroke="#161616" stroke-width="1.2"/>
<rect x="222.7" y="1289.6" width="13.3" height="0.7" fill="#77ac30" stroke="#161616" stroke-width="1.2"/>
<rect x="265.4" y="1197.3" width="13.3" height="93.0" fill="#0072bd" stroke="#161616" stroke-width="1.2"/>
<rect x="282.5" y="1203.7" width="13.3" height="86.6" fill="#d95319" stroke="#161616" stroke-width="1.2"/>
<rect x="299.6" y="1194.4" width="13.3" height="95.9" fill="#77ac30" stroke="#161616" stroke-width="1.2"/>
<rect x="342.2" y="1290.1" width="13.3" height="0.5" fill="#0072bd" stroke="#161616" stroke-width="1.2"/>
<rect x="359.3" y="1290.0" width="13.3" height="0.5" fill="#d95319" stroke="#161616" stroke-width="1.2"/>
<rect x="376.4" y="1290.1" width="13.3" height="0.5" fill="#77ac30" stroke="#161616" stroke-width="1.2"/>
<rect x="419.1" y="1283.1" width="13.3" height="7.2" fill="#0072bd" stroke="#161616" stroke-width="1.2"/>
<rect x="436.2" y="1278.1" width="13.3" height="12.2" fill="#d95319" stroke="#161616" stroke-width="1.2"/>
<rect x="453.3" y="1280.6" width="13.3" height="9.7" fill="#77ac30" stroke="#161616" stroke-width="1.2"/>
<rect x="496.0" y="1290.1" width="13.3" height="0.5" fill="#0072bd" stroke="#161616" stroke-width="1.2"/>
<rect x="513.1" y="1290.1" width="13.3" height="0.5" fill="#d95319" stroke="#161616" stroke-width="1.2"/>
<rect x="530.2" y="1290.2" width="13.3" height="0.5" fill="#77ac30" stroke="#161616" stroke-width="1.2"/>
<rect x="572.8" y="1290.2" width="13.3" height="0.5" fill="#0072bd" stroke="#161616" stroke-width="1.2"/>
<rect x="589.9" y="1289.5" width="13.3" height="0.8" fill="#d95319" stroke="#161616" stroke-width="1.2"/>
<rect x="607.0" y="1288.9" width="13.3" height="1.4" fill="#77ac30" stroke="#161616" stroke-width="1.2"/>
<rect x="58.5" y="881.6" width="614.9" height="408.7" fill="none" stroke="#1c1c1c" stroke-width="1.25"/>
<text x="47.8" y="1298.1" text-anchor="end" class="h21">0</text>
<text x="47.8" y="1239.7" text-anchor="end" class="h21">1</text>
<text x="47.8" y="1181.3" text-anchor="end" class="h21">2</text>
<text x="47.8" y="1122.9" text-anchor="end" class="h21">3</text>
<text x="47.8" y="1064.6" text-anchor="end" class="h21">4</text>
<text x="47.8" y="1006.2" text-anchor="end" class="h21">5</text>
<text x="47.8" y="947.8" text-anchor="end" class="h21">6</text>
<text x="47.8" y="889.4" text-anchor="end" class="h21">7</text>
<text x="58.5" y="1320" text-anchor="middle" class="h21">0</text>
<text x="135.4" y="1320" text-anchor="middle" class="h21">1</text>
<text x="212.2" y="1320" text-anchor="middle" class="h21">2</text>
<text x="289.1" y="1320" text-anchor="middle" class="h21">3</text>
<text x="365.9" y="1320" text-anchor="middle" class="h21">4</text>
<text x="442.8" y="1320" text-anchor="middle" class="h21">5</text>
<text x="519.7" y="1320" text-anchor="middle" class="h21">6</text>
<text x="596.5" y="1320" text-anchor="middle" class="h21">7</text>
<text x="673.4" y="1320" text-anchor="middle" class="h21">8</text>
<rect x="448" y="900.4" width="207.3" height="79.8" fill="#fff" stroke="#555" stroke-width="1"/>
<rect x="455.4" y="906.2" width="65.5" height="19" fill="#0072bd" stroke="#222" stroke-width="0.8"/>
<text x="525.8" y="921.9" font-size="19.8" class="h">deSAX</text>
<rect x="455.4" y="931.9" width="65.5" height="19" fill="#d95319" stroke="#222" stroke-width="0.8"/>
<text x="525.8" y="947.6" font-size="19.8" class="h">3D FEA</text>
<rect x="455.4" y="957.4" width="65.5" height="19" fill="#77ac30" stroke="#222" stroke-width="0.8"/>
<text x="525.8" y="973.1" font-size="19.8" class="h">Measurement</text>
<text transform="translate(21.9,1085.9) rotate(-90)" text-anchor="middle" font-size="24" class="h">Back EMF (V)</text>
<text x="365" y="1350" text-anchor="middle" font-size="24.1" class="h">Harmonic Component Order</text>
<text x="345.8" y="1381" text-anchor="middle" class="cap" style="font-size:26.7px">(c) Experiment result [18]</text>
</g>
</svg>
</body></html>
